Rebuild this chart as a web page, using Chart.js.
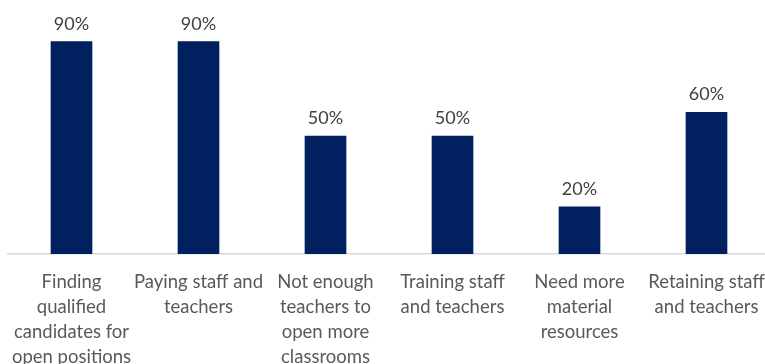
<!DOCTYPE html>
<html>
<head>
<meta charset="utf-8">
<script src="https://cdn.jsdelivr.net/npm/chart.js@4/dist/chart.umd.min.js"></script>
<style>
    html, body { margin: 0; padding: 0; background: #fff; overflow: hidden; }
    #wrap { position: relative; width: 770px; height: 364px; }
</style>
</head>
<body>
<div id="wrap"><canvas id="chart"></canvas></div>
<script>
// Categories (wrapped onto lines the way they show under the bars)
const categories = [
    ['Finding', 'qualified', 'candidates for', 'open positions'],
    ['Paying staff and', 'teachers'],
    ['Not enough', 'teachers to', 'open more', 'classrooms'],
    ['Training staff', 'and teachers'],
    ['Need more', 'material', 'resources'],
    ['Retaining staff', 'and teachers']
];
const shares = [90, 90, 50, 50, 20, 60];
const yMin = 0;
const yMax = 100;

// Percent labels above each bar
const valueLabels = {
    id: 'valueLabels',
    afterDatasetsDraw(chart) {
        const ctx = chart.ctx;
        const meta = chart.getDatasetMeta(0);
        ctx.save();
        ctx.font = '18px Lato';
        ctx.fillStyle = '#404040';
        ctx.textAlign = 'center';
        ctx.textBaseline = 'alphabetic';
        meta.data.forEach((bar, i) => {
            ctx.fillText(shares[i] + '%', bar.x, bar.y - 12);
        });
        ctx.restore();
    }
};

new Chart(document.getElementById('chart'), {
    type: 'bar',
    data: {
        labels: categories,
        datasets: [{
            data: shares,
            backgroundColor: '#002060',
            borderWidth: 0,
            barThickness: 41
        }]
    },
    options: {
        responsive: true,
        maintainAspectRatio: false,
        animation: false,
        layout: { padding: { top: 18, left: 8, right: 0, bottom: 0 } },
        plugins: { legend: { display: false }, tooltip: { enabled: false } },
        scales: {
            x: {
                grid: { display: false },
                border: { display: true, color: '#d9d9d9', width: 1.5 },
                ticks: {
                    color: '#595959',
                    font: { family: 'Lato', size: 18.5, lineHeight: 1.35 },
                    padding: 8,
                    maxRotation: 0,
                    autoSkip: false
                },
                afterFit(scale) {
                    // keep the long edge labels from shrinking the plot
                    scale.height = 110;
                    scale.paddingLeft = 0;
                    scale.paddingRight = 0;
                }
            },
            y: {
                display: false,
                min: yMin,
                max: yMax
            }
        }
    },
    plugins: [valueLabels]
});
</script>
</body>
</html>
